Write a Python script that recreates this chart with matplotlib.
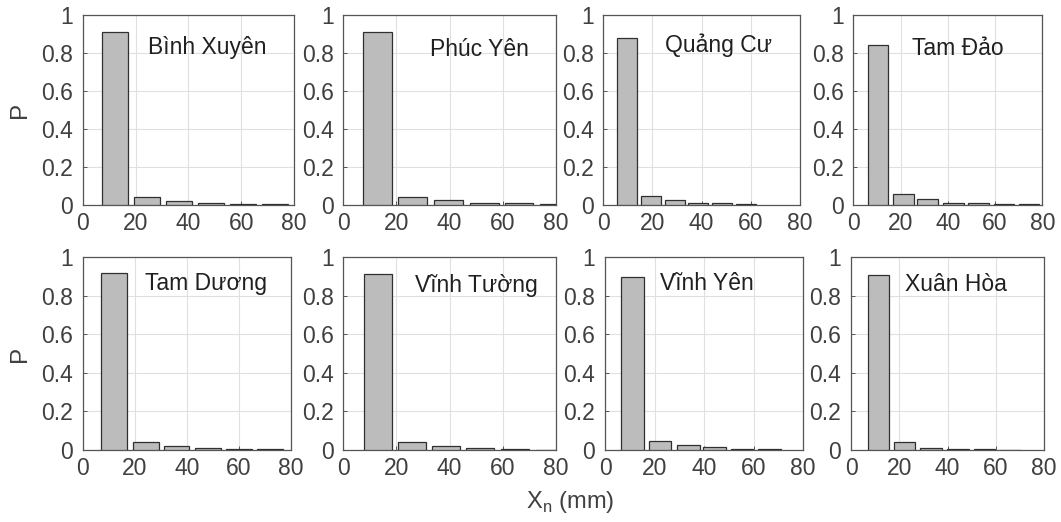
import matplotlib
matplotlib.use("Agg")
import matplotlib.pyplot as plt

plt.rcParams['font.family'] = ['Liberation Sans', 'DejaVu Sans']

stations = ["Bình Xuyên", "Phúc Yên", "Quảng Cư", "Tam Đảo",
            "Tam Dương", "Vĩnh Tường", "Vĩnh Yên", "Xuân Hòa"]

# bin centers (mm) and probabilities for each station
centers = [
    [12.2, 24.3, 36.4, 48.5, 60.6, 72.7],
    [12.9, 26.1, 39.7, 53.0, 66.1, 79.5],
    [9.6, 19.5, 29.3, 38.7, 48.3, 58.2],
    [10.4, 21.1, 31.4, 42.3, 53.0, 63.8, 74.4],
    [12.1, 24.2, 36.0, 48.2, 60.0, 71.9],
    [12.9, 25.7, 38.7, 51.5, 64.6, 77.6],
    [11.0, 22.2, 33.6, 44.3, 55.4, 66.5],
    [11.3, 22.1, 33.2, 44.3, 55.3, 66.2],
]
probs = [
    [0.913, 0.042, 0.020, 0.008, 0.005, 0.003],
    [0.913, 0.044, 0.026, 0.010, 0.008, 0.003],
    [0.880, 0.047, 0.026, 0.012, 0.008, 0.003],
    [0.840, 0.057, 0.031, 0.012, 0.010, 0.004, 0.003],
    [0.915, 0.043, 0.022, 0.012, 0.005, 0.003],
    [0.910, 0.043, 0.022, 0.010, 0.004, 0.001],
    [0.894, 0.048, 0.026, 0.013, 0.005, 0.004],
    [0.909, 0.040, 0.012, 0.006, 0.003, 0.002],
]
xticks = [0, 20, 40, 60, 80]
yticks = [0, 0.2, 0.4, 0.6, 0.8, 1.0]
ytick_labels = ["0", "0.2", "0.4", "0.6", "0.8", "1"]

W, H = 1061, 522
fig = plt.figure(figsize=(W / 100, H / 100), dpi=100)

# axes boxes in pixels: (left, right, top, bottom)
boxes = [
    (82.7, 294.0, 15, 205), (343.3, 556.0, 15, 205),
    (603.3, 800.0, 15, 205), (853.3, 1042.3, 15, 205),
    (82.7, 291.0, 257, 450), (343.3, 556.0, 257, 450),
    (605.0, 803.0, 257, 450), (851.0, 1044.0, 257, 450),
]
label_pos = [(47.3, 0.83), (51.3, 0.82), (47.0, 0.84), (44.1, 0.826),
             (47.3, 0.862), (50.0, 0.853), (41.1, 0.862), (43.6, 0.86)]

FS = 16.5
tick_col = "#404040"
for i, (l, r, t, b) in enumerate(boxes):
    ax = fig.add_axes([l / W, 1 - b / H, (r - l) / W, (b - t) / H])
    c = centers[i]
    width = 0.82 * (c[1] - c[0])
    ax.bar(c, probs[i], width=width, color="#bcbcbc", edgecolor="#303030",
           linewidth=0.9, zorder=3)
    ax.set_xlim(0, 80)
    ax.set_ylim(0, 1)
    ax.set_xticks(xticks)
    ax.set_yticks(yticks)
    ax.set_yticklabels(ytick_labels)
    ax.grid(True, color="#e0e0e0", linewidth=0.8, zorder=0)
    ax.set_axisbelow(True)
    for s in ax.spines.values():
        s.set_color("#555555")
        s.set_linewidth(0.9)
    ax.tick_params(direction="in", length=3, width=0.7, colors="#555555",
                   labelcolor=tick_col, labelsize=FS)
    ax.tick_params(axis="x", pad=5)
    ax.tick_params(axis="y", pad=7)
    ax.text(label_pos[i][0], label_pos[i][1], stations[i], ha="center",
            va="center", fontsize=FS, color="#202020")
    if i % 4 == 0:
        ax.set_ylabel("P", fontsize=FS + 1, color=tick_col)
        ax.yaxis.set_label_coords((31 - l) / (r - l), 0.5)

fig.text(570 / W, 1 - 502 / H, r"X$_\mathregular{n}$ (mm)", ha="center",
         va="center", fontsize=FS + 0.5, color=tick_col)

fig.savefig("out.png", dpi=100)
